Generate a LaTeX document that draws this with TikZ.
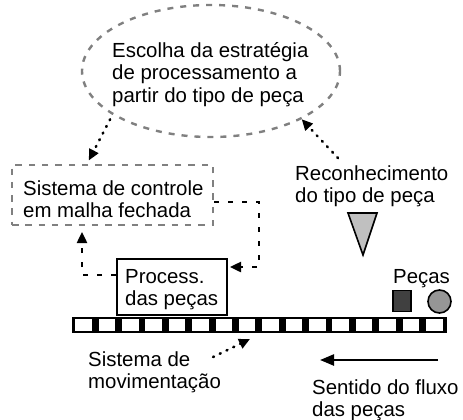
\documentclass[tikz,border=0pt]{standalone}
\usepackage{fontspec}
\setmainfont{Liberation Sans}
\usetikzlibrary{arrows.meta,shapes.geometric,calc}
\definecolor{dgray}{RGB}{128,128,128}
\definecolor{sensorgray}{RGB}{192,192,192}
\definecolor{piecedark}{RGB}{64,64,64}
\definecolor{piecegray}{RGB}{150,150,150}
\begin{document}
\begin{tikzpicture}[x=1pt,y=-1pt,
  txt/.style={font=\fontsize{20.4}{22}\selectfont, inner sep=0pt, align=left, anchor=base west},
  grayell/.style={draw=dgray, line width=2.4pt, dash pattern=on 6pt off 7pt},
  graybox/.style={draw=dgray, line width=2pt, dash pattern=on 6.5pt off 6.8pt},
  dotarrow/.style={line width=2.6pt, line cap=round, dash pattern=on 1pt off 6.5pt, -{Triangle[length=11pt,width=10pt]}},
  blackdash/.style={line width=2.4pt, dash pattern=on 5pt off 9pt, -{Triangle[length=11pt,width=10pt]}},
  flowarrow/.style={line width=2.4pt, -{Triangle[length=14pt,width=11pt]}}
]
\useasboundingbox (0,0) rectangle (463,420);

% ellipse: strategy choice
\node[ellipse, grayell, minimum width=258pt, minimum height=132pt, inner sep=0pt] (ell) at (211,71) {};
\node[txt] (elltxt) at (112,102) {Escolha da estratégia\\de processamento a\\partir do tipo de peça};

% closed-loop control box
\node[rectangle, graybox, minimum width=201pt, minimum height=60pt, inner sep=0pt] (ctl) at (112.5,195) {};
\node[txt] (ctltxt) at (23,217) {Sistema de controle\\em malha fechada};

% processing box
\node[rectangle, draw=black, line width=2pt, minimum width=110pt, minimum height=56pt, inner sep=0pt] (proc) at (172,287) {};
\node[txt] (proctxt) at (125,305) {Process.\\das peças};

% recognition
\node[txt] (recon) at (295,202) {Reconhecimento\\do tipo de peça};
\draw[fill=sensorgray, draw=black, line width=1.6pt, line join=miter] (348,213) -- (377,213) -- (363,255) -- cycle;

% pieces
\node[txt] (pecas) at (393,283) {Peças};
\node[rectangle, fill=piecedark, draw=black, line width=1.6pt, minimum width=18pt, minimum height=21pt, inner sep=0pt] (sq) at (402,301) {};
\node[circle, fill=piecegray, draw=black, line width=1.6pt, minimum size=23pt, inner sep=0pt] (ci) at (439.5,301.5) {};

% conveyor belt
\node[rectangle, fill=black, minimum width=375pt, minimum height=15.5pt, inner sep=0pt] (belt) at (259.5,325) {};
\foreach \i in {0,...,15} {
  \fill[white] ($(belt.west)+(3.5+\i*23.38,-5.75)$) rectangle ++(16.5,11.5);
}

% movement system
\node[txt] (mov) at (88,388) {Sistema de\\movimentação};

% flow direction
\coordinate (flowA) at (438,360);
\coordinate (flowB) at (320,360);
\draw[flowarrow] (flowA) -- (flowB);
\node[txt] (flow) at (312,416) {Sentido do fluxo\\das peças};

% connectors
\draw[dotarrow, shorten <=5pt, shorten >=4pt] (ell.204) -- ([xshift=76pt]ctl.north west);
\draw[dotarrow, shorten <=4pt] ([xshift=-31pt,yshift=4pt]recon.north) -- (ell.-28);
\draw[blackdash, shorten >=2pt] ([yshift=-7pt]ctl.east) -| ([xshift=31pt,yshift=20pt]proc.east) -- ([yshift=20pt]proc.east);
\draw[blackdash, shorten >=6pt] ([yshift=12pt]proc.west) -| ([xshift=71pt]ctl.south west);
\coordinate (movend) at (250,339);
\draw[dotarrow] ([xshift=-8pt,yshift=-6pt]mov.north east) -- (movend);
\end{tikzpicture}
\end{document}
